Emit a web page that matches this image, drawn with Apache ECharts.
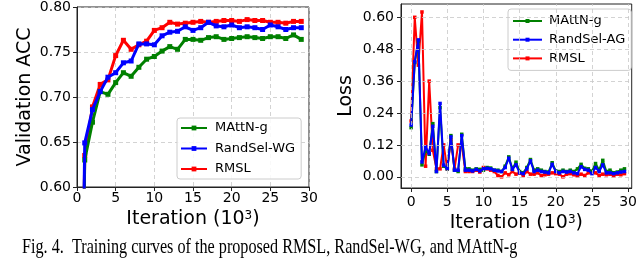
<!DOCTYPE html>
<html><head><meta charset="utf-8">
<script src="https://cdn.jsdelivr.net/npm/echarts@6/dist/echarts.min.js"></script>
<style>html,body{margin:0;padding:0;background:#fff}#c{width:640px;height:258px}</style>
</head><body><div id="c"></div>
<script>
// ---- Left chart: Validation ACC ----
const accIter = [0,1,2,3,4,5,6,7,8,9,10,11,12,13,14,15,16,17,18,19,20,21,22,23,24,25,26,27,28,29];
const accMAttN = [0.0,0.63,0.672,0.706,0.703,0.716,0.727,0.723,0.733,0.742,0.745,0.751,0.756,0.753,0.764,0.764,0.763,0.766,0.767,0.764,0.765,0.766,0.767,0.766,0.765,0.767,0.767,0.765,0.769,0.764];
const accRandSel = [0.0,0.649,0.686,0.706,0.722,0.727,0.738,0.740,0.759,0.759,0.758,0.768,0.772,0.773,0.778,0.774,0.777,0.783,0.779,0.778,0.780,0.777,0.778,0.777,0.775,0.780,0.778,0.775,0.777,0.777];
const accRMSL = [0.0,0.635,0.689,0.714,0.719,0.746,0.763,0.753,0.758,0.762,0.774,0.777,0.783,0.781,0.782,0.783,0.784,0.783,0.784,0.785,0.785,0.784,0.786,0.785,0.785,0.783,0.783,0.782,0.784,0.784];
const accXTicks = [0,5,10,15,20,25,30];
const accYTicks = [0.60,0.65,0.70,0.75,0.80];

// ---- Right chart: Loss ----
const lossIter = [0,0.5,1,1.5,2,2.5,3,3.5,4,4.5,5,5.5,6,6.5,7,7.5,8,8.5,9,9.5,10,10.5,11,11.5,12,12.5,13,13.5,14,14.5,15,15.5,16,16.5,17,17.5,18,18.5,19,19.5,20,20.5,21,21.5,22,22.5,23,23.5,24,24.5,25,25.5,26,26.5,27,27.5,28,28.5,29,29.5];
const lossMAttN = [0.185,0.43,0.51,0.045,0.10,0.085,0.20,0.02,0.26,0.04,0.03,0.155,0.025,0.02,0.16,0.03,
  0.03,0.025,0.03,0.028,0.025,0.035,0.033,0.025,0.025,0.02,0.04,0.075,0.03,0.055,0.02,0.015,0.035,0.065,0.025,0.03,0.025,0.02,0.018,0.053,0.022,0.02,0.025,0.02,0.025,0.02,0.03,0.047,0.032,0.03,0.02,0.05,0.025,0.062,0.02,0.025,0.015,0.018,0.025,0.03];
const lossRandSel = [0.195,0.433,0.515,0.056,0.113,0.088,0.19,0.02,0.276,0.044,0.031,0.15,0.025,0.025,0.155,0.025,
  0.025,0.022,0.028,0.022,0.03,0.032,0.03,0.025,0.022,0.02,0.035,0.07,0.028,0.045,0.015,0.012,0.03,0.06,0.02,0.025,0.02,0.018,0.015,0.047,0.02,0.015,0.02,0.018,0.02,0.015,0.012,0.038,0.028,0.025,0.012,0.035,0.02,0.045,0.015,0.015,0.012,0.015,0.018,0.02];
const lossRMSL = [0.21,0.60,0.42,0.62,0.04,0.36,0.10,0.03,0.03,0.12,0.03,0.14,0.03,0.12,0.12,0.02,
  0.02,0.02,0.025,0.018,0.035,0.03,0.025,0.02,0.005,0.0,0.015,0.008,0.02,0.01,0.015,0.005,0.02,0.01,0.01,0.015,0.005,0.008,0.01,0.015,0.012,0.01,0.0,0.01,0.012,0.008,0.003,0.01,0.005,0.015,0.02,0.015,0.005,0.01,0.008,0.01,0.003,0.01,0.008,0.012];
const lossXTicks = [0,5,10,15,20,25,30];
const lossYTicks = [0.00,0.12,0.24,0.36,0.48,0.60];

const caption = 'Fig. 4.  Training curves of the proposed RMSL, RandSel-WG, and MAttN-g';

const GREEN = '#008000', BLUE = '#0000ff', RED = '#ff0000';
const FONT = 'DejaVu Sans';
const GRIDCOL = '#c8c8c8';
const pair = (xs, ys) => xs.map((x, i) => [x, ys[i]]);

function mkSeries(name, xs, ys, color, xi, yi, lw, ss, z) {
  return {
    type: 'line', name, xAxisIndex: xi, yAxisIndex: yi, data: pair(xs, ys),
    symbol: 'rect', symbolSize: ss, showSymbol: true, z,
    lineStyle: { color, width: lw }, itemStyle: { color },
    animation: false, clip: true
  };
}

// grid lines for the loss chart, drawn through the library's axes
const lossGridLines = {
  type: 'line', xAxisIndex: 1, yAxisIndex: 1, data: [], z: 1, silent: true,
  markLine: {
    silent: true, symbol: ['none', 'none'], label: { show: false }, animation: false,
    lineStyle: { color: GRIDCOL, type: [4, 3], width: 0.8 },
    emphasis: { disabled: true },
    data: lossXTicks.map(v => ({ xAxis: v })).concat(lossYTicks.map(v => ({ yAxis: v })))
  }
};

const axisLine = { show: true, onZero: false, lineStyle: { color: '#222', width: 1 } };
const labelBase = { color: '#000', fontFamily: FONT, fontSize: 14 };
const nameStyle = {
  color: '#000', fontFamily: FONT, fontSize: 19,
  rich: { s: { fontSize: 12, fontFamily: FONT, color: '#000', verticalAlign: 'top', padding: [0, 0, 4, 0] } }
};
const leftSplit = { show: true, lineStyle: { color: GRIDCOL, type: [4, 3], width: 0.8 } };
const tick = { show: true, inside: false, length: 4, lineStyle: { color: '#222' } };

const chart = echarts.init(document.getElementById('c'), null, { renderer: 'canvas' });
chart.setOption({
  animation: false,
  backgroundColor: '#fff',
  grid: [
    { left: 77, right: 331, top: 6, bottom: 71, show: true, borderColor: '#222', borderWidth: 1 },
    { left: 401, right: 8, top: 4, bottom: 70, show: true, borderColor: '#222', borderWidth: 1 }
  ],
  xAxis: [
    {
      type: 'value', gridIndex: 0, min: accXTicks[0], max: accXTicks[accXTicks.length - 1], interval: 5,
      axisLine, axisTick: tick, splitLine: leftSplit,
      axisLabel: Object.assign({}, labelBase, { margin: 4 }),
      name: 'Iteration (10{s|3})', nameLocation: 'middle', nameGap: 21, nameTextStyle: nameStyle
    },
    {
      type: 'value', gridIndex: 1, min: -1.4, max: 30.5,
      axisLine, splitLine: { show: false },
      axisLabel: Object.assign({}, labelBase, { margin: 7, customValues: lossXTicks }),
      axisTick: Object.assign({}, tick, { customValues: lossXTicks }),
      name: 'Iteration (10{s|3})', nameLocation: 'middle', nameGap: 22, nameTextStyle: nameStyle
    }
  ],
  yAxis: [
    {
      type: 'value', gridIndex: 0, min: accYTicks[0], max: accYTicks[accYTicks.length - 1], interval: 0.05,
      axisLine, axisTick: tick, splitLine: leftSplit,
      axisLabel: Object.assign({}, labelBase, { margin: 6, formatter: v => v.toFixed(2) }),
      name: 'Validation ACC', nameLocation: 'middle', nameGap: 42, nameRotate: 90, nameTextStyle: nameStyle
    },
    {
      type: 'value', gridIndex: 1, min: -0.042, max: 0.65,
      axisLine, splitLine: { show: false },
      axisLabel: Object.assign({}, labelBase, { margin: 7, customValues: lossYTicks, formatter: v => v.toFixed(2) }),
      axisTick: Object.assign({}, tick, { customValues: lossYTicks }),
      name: 'Loss', nameLocation: 'middle', nameGap: 45, nameRotate: 90, nameTextStyle: nameStyle
    }
  ],
  legend: [
    {
      data: ['MAttN-g', 'RandSel-WG', 'RMSL'], orient: 'vertical', left: 177, top: 118,
      itemWidth: 26, itemHeight: 6, itemGap: 6.5, padding: [3, 6, 3, 3],
      borderColor: '#cccccc', borderWidth: 1, borderRadius: 3, backgroundColor: 'rgba(255,255,255,0.85)',
      textStyle: { fontFamily: FONT, fontSize: 13, lineHeight: 14, color: '#000', padding: [0, 0, 0, 3] }
    },
    {
      data: ['MAttN-g ', 'RandSel-AG', 'RMSL '], orient: 'vertical', left: 508, top: 9,
      itemWidth: 29, itemHeight: 5, itemGap: 4.7, padding: [5, 6, 5, 4],
      borderColor: '#cccccc', borderWidth: 1, borderRadius: 3, backgroundColor: 'rgba(255,255,255,0.85)',
      textStyle: { fontFamily: FONT, fontSize: 13, lineHeight: 14, color: '#000', padding: [0, 0, 0, 2] }
    }
  ],
  series: [
    lossGridLines,
    mkSeries('RMSL', accIter, accRMSL, RED, 0, 0, 3, 5, 2),
    mkSeries('MAttN-g', accIter, accMAttN, GREEN, 0, 0, 3, 5, 3),
    mkSeries('RandSel-WG', accIter, accRandSel, BLUE, 0, 0, 3, 5, 4),
    mkSeries('RMSL ', lossIter, lossRMSL, RED, 1, 1, 2, 3.5, 2),
    mkSeries('MAttN-g ', lossIter, lossMAttN, GREEN, 1, 1, 2, 3.5, 3),
    mkSeries('RandSel-AG', lossIter, lossRandSel, BLUE, 1, 1, 2, 3.5, 4)
  ],
  graphic: [{
    type: 'text', left: 22, top: 237, scaleY: 1.3,
    style: { text: caption, fontFamily: 'Liberation Serif', fontSize: 16.2, fill: '#000' }
  }]
});
</script>
</body></html>
